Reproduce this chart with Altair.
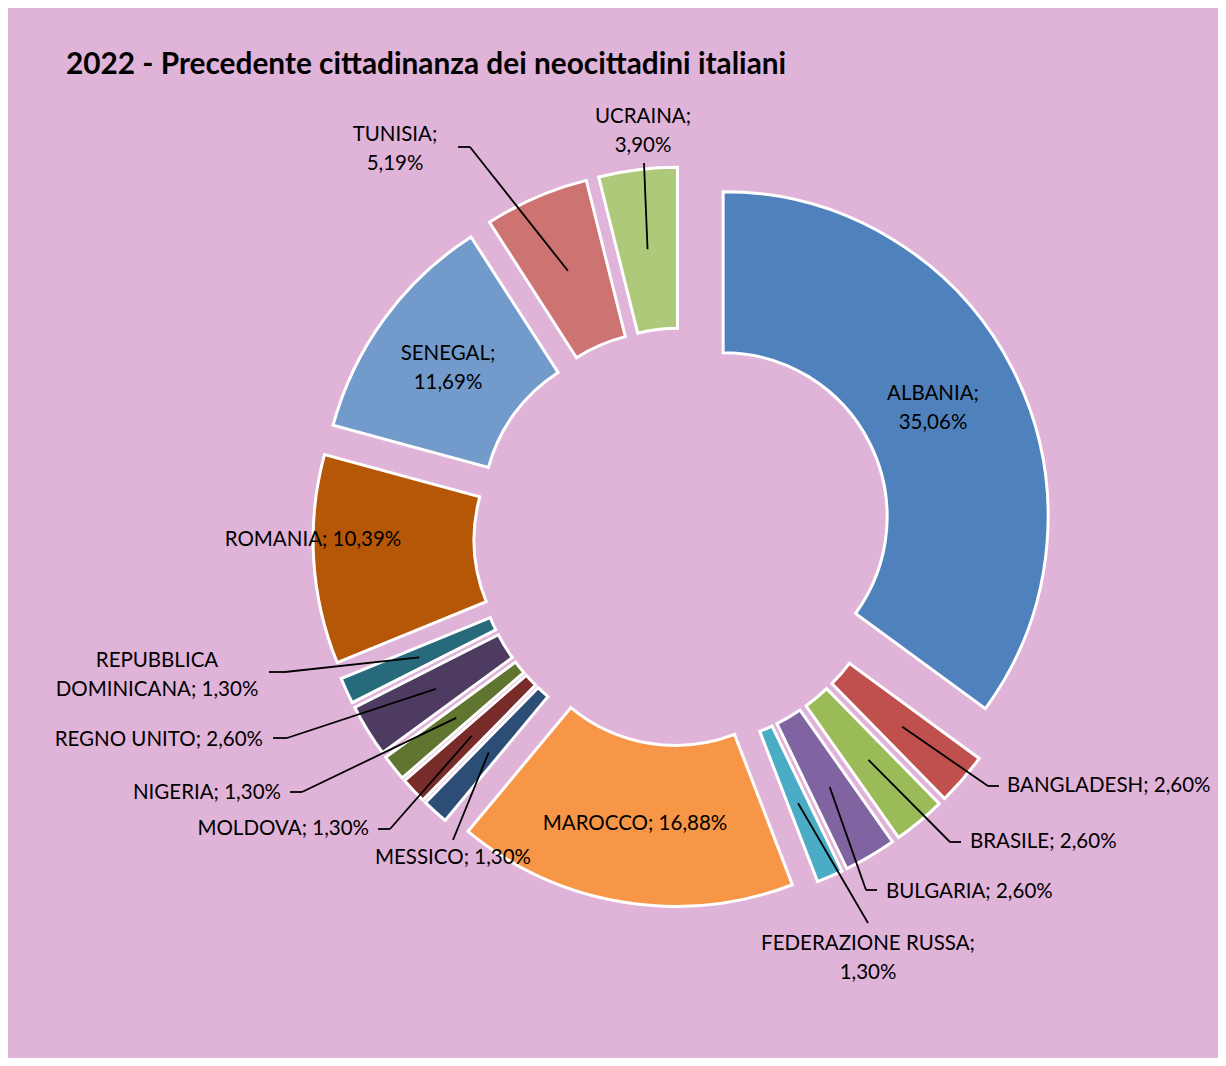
import math
import altair as alt
import pandas as pd

# ---------------- data ----------------
countries = ["ALBANIA", "BANGLADESH", "BRASILE", "BULGARIA", "FEDERAZIONE RUSSA",
             "MAROCCO", "MESSICO", "MOLDOVA", "NIGERIA", "REGNO UNITO",
             "REPUBBLICA DOMINICANA", "ROMANIA", "SENEGAL", "TUNISIA", "UCRAINA"]
shares = [35.06, 2.60, 2.60, 2.60, 1.30, 16.88, 1.30, 1.30, 1.30, 2.60, 1.30,
          10.39, 11.69, 5.19, 3.90]
share_text = ["35,06%", "2,60%", "2,60%", "2,60%", "1,30%", "16,88%", "1,30%",
              "1,30%", "1,30%", "2,60%", "1,30%", "10,39%", "11,69%", "5,19%", "3,90%"]
colors = ["#4F81BD", "#C0504D", "#9BBB59", "#8064A2", "#4BACC6", "#F79646",
          "#2C4D75", "#772C2A", "#5F7530", "#4D3B62", "#276A7C", "#B65708",
          "#729ACA", "#CD7371", "#AFC97A"]
title_text = "2022 - Precedente cittadinanza dei neocittadini italiani"

# ---------------- layout (page pixels) ----------------
PAD_TOP = 100
OX, OY = 8, 8 + PAD_TOP
CX, CY = 683 - OX, 537 - OY          # donut centre
R_OUT, R_IN, EXPLODE, R_LEAD = 325, 164, 45, 245
LINE_H = 29

# label text block centre / anchor, alignment, line break after the name
label_layout = {
    "ALBANIA": (933, 407, "center", True),
    "BANGLADESH": (1007, 786, "left", False),
    "BRASILE": (970, 842, "left", False),
    "BULGARIA": (886, 892, "left", False),
    "FEDERAZIONE RUSSA": (868, 957, "center", True),
    "MAROCCO": (635, 824, "center", False),
    "MESSICO": (453, 858, "center", False),
    "MOLDOVA": (369, 829, "right", False),
    "NIGERIA": (281, 793, "right", False),
    "REGNO UNITO": (263, 740, "right", False),
    "REPUBBLICA DOMINICANA": (157, 674, "center", True),
    "ROMANIA": (313, 540, "center", False),
    "SENEGAL": (448, 367, "center", True),
    "TUNISIA": (395, 148, "center", True),
    "UCRAINA": (643, 130, "center", True),
}
# leader line: elbow point and end point
leader_layout = {
    "UCRAINA": ((644, 163), (644, 163)),
    "TUNISIA": ((470, 147), (458, 147)),
    "REPUBBLICA DOMINICANA": ((285, 672), (269, 672)),
    "REGNO UNITO": ((287, 738), (273, 738)),
    "NIGERIA": ((302, 792), (290, 792)),
    "MOLDOVA": ((390, 829), (378, 829)),
    "MESSICO": ((453, 840), (453, 840)),
    "FEDERAZIONE RUSSA": ((868, 923), (868, 923)),
    "BULGARIA": ((866, 890), (877, 890)),
    "BRASILE": ((950, 842), (961, 842)),
    "BANGLADESH": ((988, 786), (999, 786)),
}

rows = []
for i, c in enumerate(countries):
    lx, ly, al, brk = label_layout[c]
    if c == "REPUBBLICA DOMINICANA":
        txt = "REPUBBLICA\nDOMINICANA; " + share_text[i]
    else:
        txt = c + ";" + ("\n" if brk else " ") + share_text[i]
    if brk:
        ly -= 13  # first-line centre of a two-line block
    lead = leader_layout.get(c)
    rows.append({
        "country": c, "share": shares[i], "order": i, "label": txt,
        "tx": lx - OX, "ty": ly - OY, "align": al,
        "has_lead": lead is not None,
        "ex": (lead[0][0] - OX) if lead else 0, "ey": (lead[0][1] - OY) if lead else 0,
        "fx": (lead[1][0] - OX) if lead else 0, "fy": (lead[1][1] - OY) if lead else 0,
    })
df = pd.DataFrame(rows)
total = sum(shares)

base = alt.Chart(df).transform_window(
    cum="sum(share)", sort=[alt.SortField("order")], frame=[None, 0]
).transform_calculate(
    cum0="datum.cum - datum.share",
    mid=f"(datum.cum - datum.share / 2) / {total} * 2 * PI",
).transform_calculate(
    cx=f"{CX} + {EXPLODE} * sin(datum.mid)",
    cy=f"{CY} - {EXPLODE} * cos(datum.mid)",
).transform_calculate(
    lx0=f"datum.cx + {R_LEAD} * sin(datum.mid)",
    ly0=f"datum.cy - {R_LEAD} * cos(datum.mid)",
)

arcs = base.mark_arc(outerRadius=R_OUT, innerRadius=R_IN, stroke="white",
                     strokeWidth=3).encode(
    theta=alt.Theta("cum0:Q", scale=alt.Scale(domain=[0, total], range=[0, 2 * math.pi])),
    theta2="cum:Q",
    x=alt.X("cx:Q", scale=None),
    y=alt.Y("cy:Q", scale=None),
    color=alt.Color("country:N", scale=alt.Scale(domain=countries, range=colors), legend=None),
)

lead1 = base.transform_filter("datum.has_lead").mark_rule(color="black", strokeWidth=1.8).encode(
    x=alt.X("lx0:Q", scale=None), y=alt.Y("ly0:Q", scale=None),
    x2="ex:Q", y2="ey:Q",
)
lead2 = base.transform_filter("datum.has_lead").mark_rule(color="black", strokeWidth=1.8).encode(
    x=alt.X("ex:Q", scale=None), y=alt.Y("ey:Q", scale=None),
    x2="fx:Q", y2="fy:Q",
)

def text_layer(al):
    return base.transform_filter(f"datum.align == '{al}'").mark_text(
        align=al, baseline="middle", font="Lato", fontSize=20.5, color="#000000",
        lineBreak="\n", lineHeight=LINE_H,
    ).encode(
        x=alt.X("tx:Q", scale=None), y=alt.Y("ty:Q", scale=None), text="label:N",
    )

chart = alt.layer(arcs, lead1, lead2, text_layer("center"), text_layer("left"),
                  text_layer("right")).properties(
    width=1210, height=1050 - PAD_TOP,
    padding={"left": 0, "top": PAD_TOP, "right": 0, "bottom": 0},
    autosize=alt.AutoSizeParams(type="none"),
    background="#E0B3D9",
    title=alt.TitleParams(title_text, anchor="start", dx=58, offset=27,
                          font="Lato", fontSize=29.8, fontWeight="bold", color="#000000"),
).configure_view(stroke=None)

chart.save("out.html", embed_options={"renderer": "svg", "actions": False})
